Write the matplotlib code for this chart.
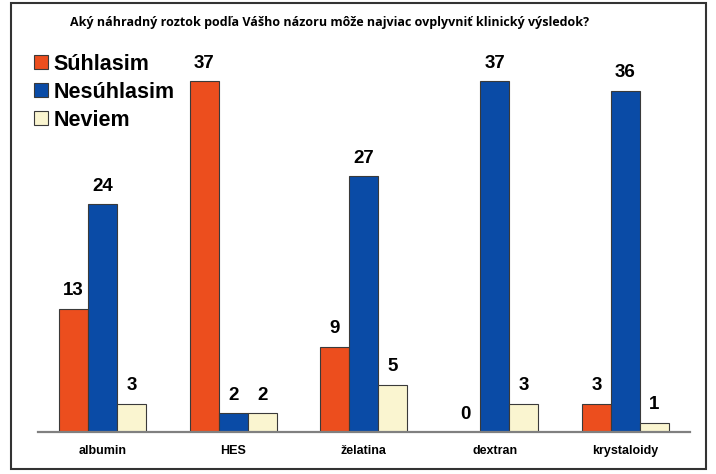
import numpy as np
import matplotlib.pyplot as plt
from matplotlib.patches import Rectangle

categories = ['albumin', 'HES', 'želatina', 'dextran', 'krystaloidy']
suhlasim = [13, 37, 9, 0, 3]
nesuhlasim = [24, 2, 27, 37, 36]
neviem = [3, 2, 5, 3, 1]
series_names = ['Súhlasim', 'Nesúhlasim', 'Neviem']
title = 'Aký náhradný roztok podľa Vášho názoru môže najviac ovplyvniť klinický výsledok?'

colors = ['#EC4E1E', '#0A4BA6', '#FAF5D0']
plt.rcParams['font.family'] = ['Liberation Sans', 'DejaVu Sans']

fig = plt.figure(figsize=(7.16, 4.74), dpi=100)
ax = fig.add_axes([0.053, 0.0886, 0.911, 0.80])

x = np.arange(len(categories))
w = 0.222
for i, (vals, name) in enumerate(zip([suhlasim, nesuhlasim, neviem], series_names)):
    pos = x + (i - 1) * w
    ax.bar(pos, vals, width=w, color=colors[i], edgecolor='#3a3a3a',
           linewidth=0.8, label=name)
    for p, v in zip(pos, vals):
        ax.text(p, v + 1.0, str(v), ha='center', va='bottom',
                fontsize=13.5, fontweight='bold')

ax.set_xlim(-0.493, 4.496)
ax.set_ylim(0, 40)
ax.set_xticks(x)
ax.set_xticklabels(categories, fontsize=9, fontweight='bold')
ax.tick_params(axis='x', length=0, pad=9)
ax.set_yticks([])
for s in ['top', 'right', 'left']:
    ax.spines[s].set_visible(False)
ax.spines['bottom'].set_color('#808080')
ax.spines['bottom'].set_linewidth(1.6)

fig.legend(loc='upper left', bbox_to_anchor=(0.036, 0.905), frameon=False,
           prop={'size': 15.5, 'weight': 'bold'}, handlelength=0.65,
           handleheight=0.65, handletextpad=0.25, labelspacing=0.33,
           borderaxespad=0)

fig.text(0.46, 0.953, title, ha='center', va='center', fontsize=9,
         fontweight='bold', family=['Open Sans', 'DejaVu Sans'])

fig.patches.append(Rectangle((0.0155, 0.011), 0.971, 0.983, transform=fig.transFigure,
                             fill=False, edgecolor='#333333', linewidth=1.5))

fig.savefig('out.png', dpi=100)
